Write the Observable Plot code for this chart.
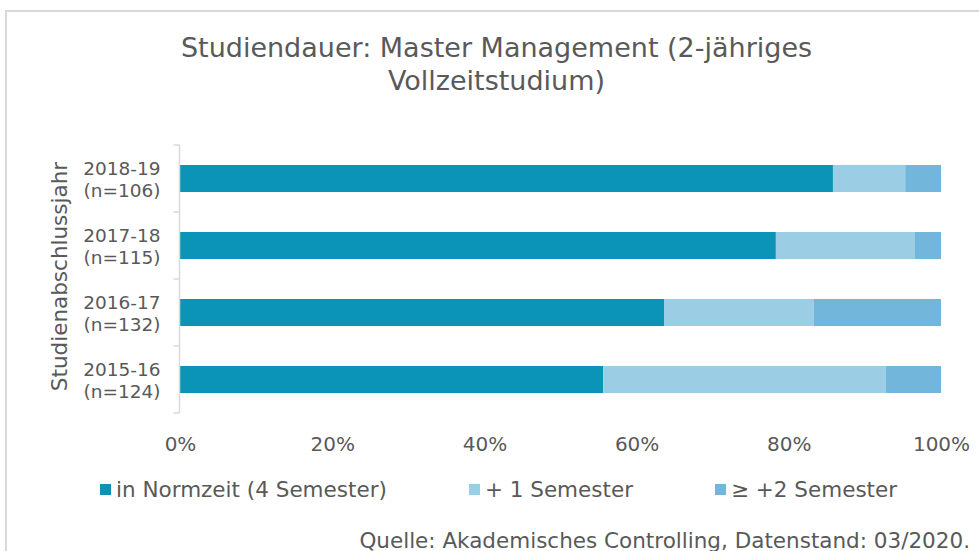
<!DOCTYPE html>
<html>
<head>
<meta charset="utf-8">
<script src="https://cdn.jsdelivr.net/npm/d3@7"></script>
<script src="https://cdn.jsdelivr.net/npm/@observablehq/plot@0.6"></script>
<style>
  html, body { margin: 0; padding: 0; background: #fff; }
  #root { position: relative; width: 979px; height: 551px; overflow: hidden; font-family: "DejaVu Sans", Verdana, sans-serif; color: #595959; }
  #frame { position: absolute; left: 5px; top: 10px; width: 1200px; height: 800px; border-top: 2px solid #d9d9d9; border-left: 2px solid #d9d9d9; }
  #title { position: absolute; left: 0; top: 31px; width: 993px; text-align: center; font-size: 27px; line-height: 33px; }
  #plot { position: absolute; left: 0; top: 130px; }
  #legend { position: absolute; left: 100px; top: 477px; height: 24px; display: flex; align-items: center; gap: 82px; font-size: 21.5px; white-space: nowrap; }
  #legend .item { display: flex; align-items: center; gap: 5px; }
  #legend .sw { width: 11px; height: 11px; display: inline-block; }
  #caption { position: absolute; right: 9px; top: 530px; font-size: 21.5px; line-height: 21px; white-space: nowrap; }
</style>
</head>
<body>
<div id="root">
  <div id="frame"></div>
  <div id="title">Studiendauer: Master Management (2-jähriges<br>Vollzeitstudium)</div>
  <div id="plot"></div>
  <div id="legend"></div>
  <div id="caption">Quelle: Akademisches Controlling, Datenstand: 03/2020.</div>
</div>
<script>
// ---- data ----
const years = ["2018-19", "2017-18", "2016-17", "2015-16"];
const nValues = [106, 115, 132, 124];
const seriesNames = ["in Normzeit (4 Semester)", "+ 1 Semester", "≥ +2 Semester"];
const normzeit = [85.8, 78.3, 63.6, 55.6];
const plusOne = [9.5, 18.2, 19.7, 37.1];
const plusTwo = [4.7, 3.5, 16.7, 7.3];
const seriesColors = ["#0c94b8", "#9bcde5", "#72b6db"];
const xTicks = [0, 20, 40, 60, 80, 100];
const yAxisLabel = "Studienabschlussjahr";

// ---- build tidy table ----
const seriesValues = [normzeit, plusOne, plusTwo];
const rows = [];
years.forEach((y, i) => {
  seriesNames.forEach((s, j) => rows.push({year: y, series: s, value: seriesValues[j][i]}));
});
const nByYear = new Map(years.map((y, i) => [y, nValues[i]]));

// custom y-axis line with ticks at category boundaries
function yAxisLine(index, scales, values, dimensions) {
  const y = scales.y;
  const x0 = scales.x(0) - 0.5;
  const half = (y.step() - y.bandwidth()) / 2;
  const g = d3.create("svg:g").attr("stroke", "#d9d9d9").attr("stroke-width", 1.5).attr("fill", "none");
  const top = y(years[0]) - half;
  const bottom = y(years[years.length - 1]) + y.bandwidth() + half;
  g.append("line").attr("x1", x0).attr("x2", x0).attr("y1", top).attr("y2", bottom);
  const bounds = years.map(d => y(d) - half).concat([bottom]);
  for (const b of bounds) {
    g.append("line").attr("x1", x0 - 6).attr("x2", x0).attr("y1", b).attr("y2", b);
  }
  return g.node();
}

const chart = Plot.plot({
  width: 979,
  height: 330,
  marginTop: 15,
  marginBottom: 47,
  marginLeft: 180,
  marginRight: 38,
  style: {fontFamily: "'DejaVu Sans', Verdana, sans-serif", color: "#595959", background: "transparent"},
  x: {domain: [0, 100], axis: null, label: null},
  y: {domain: years, paddingInner: 0.6, paddingOuter: 0.3, axis: null, label: null},
  color: {domain: seriesNames, range: seriesColors},
  marks: [
    Plot.barX(rows, {y: "year", x: "value", fill: "series", order: seriesNames}),
    yAxisLine,
    Plot.axisY({
      label: null,
      tickSize: 0,
      tickPadding: 20,
      fontSize: 18.5,
      lineHeight: 1.2,
      fill: "#595959",
      tickFormat: d => `${d}\n(n=${nByYear.get(d)})`
    }),
    Plot.axisX({
      label: null,
      ticks: xTicks,
      tickSize: 0,
      tickPadding: 23,
      fontSize: 20,
      fill: "#595959",
      tickFormat: d => `${d}%`
    }),
    Plot.text([yAxisLabel], {
      frameAnchor: "left",
      textAnchor: "middle",
      rotate: -90,
      dx: -120,
      dy: -3,
      fontSize: 21.5,
      fill: "#595959",
      text: d => d
    })
  ]
});
document.getElementById("plot").appendChild(chart);

// legend
const legend = document.getElementById("legend");
seriesNames.forEach((s, i) => {
  const item = document.createElement("span");
  item.className = "item";
  const sw = document.createElement("span");
  sw.className = "sw";
  sw.style.background = seriesColors[i];
  const t = document.createElement("span");
  t.textContent = s;
  item.appendChild(sw);
  item.appendChild(t);
  legend.appendChild(item);
});
</script>
</body>
</html>
